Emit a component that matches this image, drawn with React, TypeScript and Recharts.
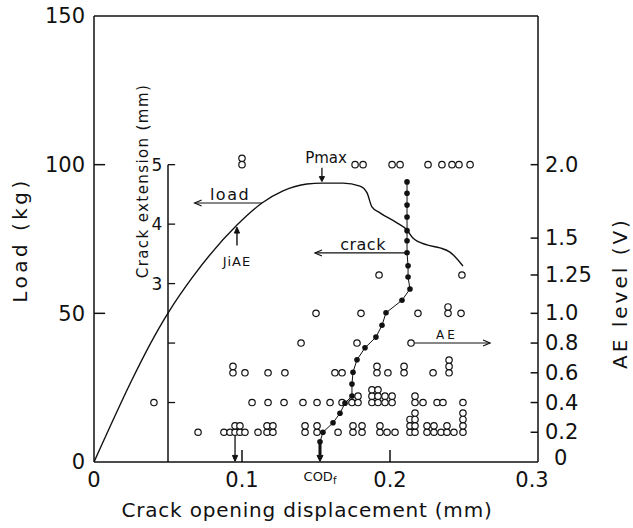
import React from 'react';
import { ComposedChart, Line, Scatter, XAxis, YAxis, ReferenceLine, ReferenceDot } from 'recharts';

const FONT = '"DejaVu Sans", sans-serif';
const INK = '#111';

// ---- axes ----
const xTicks = [0, 0.1, 0.2, 0.3];
const xTickLabels = ['0', '0.1', '0.2', '0.3'];
const loadTicks = [0, 50, 100, 150];
const loadInnerTicks = [50, 100];
const xInnerTicks = [0.1, 0.2];

// AE level axis (non-linear): level -> position on the load axis
const aeLevelTicks = [0, 0.2, 0.4, 0.6, 0.8, 1.0, 1.25, 1.5, 2.0];
const aeLevelLabels = ['0', '0.2', '0.4', '0.6', '0.8', '1.0', '1.25', '1.5', '2.0'];
const aeLevelOnLoadAxis = [0, 10, 20, 30, 40, 50, 62.9, 75.3, 100];

// Crack extension axis (inner), mm -> load axis
const crackTicksMm = [1, 2, 3, 4, 5];
const crackTickLabels = ['', '', '3', '4', '5'];
const crackKgPerMm = 20;
const crackAxisCod = 0.05;

// ---- series ----
const loadCod = [0, 0.05, 0.0662, 0.0966, 0.1135, 0.1277, 0.1439, 0.154, 0.1682, 0.1797, 0.1845, 0.1878, 0.1932, 0.2047, 0.2115, 0.2155, 0.225, 0.2338, 0.2405, 0.2493];
const loadKg = [0, 50.1, 61.9, 79.7, 87.1, 91.2, 93.5, 93.8, 93.8, 92.8, 90.5, 85.8, 83.8, 80.4, 78.0, 75.3, 73.0, 72.0, 70.6, 65.9];

const crackCod = [0.1527, 0.1547, 0.1615, 0.1662, 0.1696, 0.1743, 0.1743, 0.175, 0.1777, 0.1831, 0.1905, 0.1946, 0.1973, 0.2081, 0.2135, 0.2122, 0.2122, 0.2115, 0.2115, 0.2115, 0.2115, 0.2115, 0.2115, 0.2115];
const crackMm = [0.34, 0.5, 0.66, 0.82, 0.99, 1.11, 1.31, 1.51, 1.72, 1.92, 2.1, 2.3, 2.51, 2.72, 2.91, 3.11, 3.3, 3.52, 3.72, 3.89, 4.12, 4.32, 4.52, 4.71];

// AE events: [COD, number of events stacked]
const ae020 = [[0.0703, 1], [0.0878, 1], [0.0919, 1], [0.0953, 2], [0.0986, 2], [0.102, 1], [0.1108, 1], [0.1169, 2], [0.1209, 2], [0.1426, 2], [0.1507, 2], [0.1649, 1], [0.175, 2], [0.1811, 2], [0.1932, 2], [0.198, 1], [0.2034, 1], [0.2135, 3], [0.2169, 4], [0.225, 2], [0.2297, 2], [0.2345, 1], [0.2385, 2], [0.2432, 1], [0.2493, 4]];
const ae040 = [[0.0405, 1], [0.1068, 1], [0.1176, 1], [0.1284, 1], [0.1412, 1], [0.1507, 1], [0.1595, 1], [0.1676, 1], [0.1743, 1], [0.1784, 2], [0.1878, 3], [0.1919, 3], [0.1966, 2], [0.2014, 2], [0.2169, 2], [0.2223, 1], [0.2318, 1], [0.2358, 1], [0.2493, 1]];
const ae060 = [[0.0939, 2], [0.102, 1], [0.1176, 1], [0.129, 1], [0.1628, 1], [0.1676, 1], [0.1912, 2], [0.1986, 1], [0.2095, 2], [0.2291, 1], [0.2399, 3]];
const ae080 = [[0.1399, 1], [0.1777, 1], [0.2142, 1]];
const ae100 = [[0.15, 1], [0.1804, 1], [0.2189, 1], [0.2392, 2], [0.248, 1]];
const ae125 = [[0.1926, 1], [0.2486, 1]];
const ae200 = [[0.1, 2], [0.1764, 1], [0.1818, 1], [0.2014, 1], [0.2068, 1], [0.2257, 1], [0.2351, 1], [0.2419, 1], [0.2466, 1], [0.2541, 1]];

const aeToLoad = (lvl: number) => aeLevelOnLoadAxis[aeLevelTicks.indexOf(lvl)];

const loadData = loadCod.map((x, i) => ({ x, y: loadKg[i] }));
const crackData = crackCod.map((x, i) => ({ x, y: crackMm[i] * crackKgPerMm }));
const aeGroups: [number, number[][]][] = [[0.2, ae020], [0.4, ae040], [0.6, ae060], [0.8, ae080], [1.0, ae100], [1.25, ae125], [2.0, ae200]];
const aeData = aeGroups.flatMap(([lvl, arr]) => arr.map(([x, n]) => ({ x, y: aeToLoad(lvl), n })));

// ---- drawing helpers ----
const AeMark = (p: any) => {
  const { cx, cy, payload } = p;
  const n = payload?.n ?? 1;
  return (
    <g>
      {Array.from({ length: n }, (_, i) => (
        <circle key={i} cx={cx} cy={cy - i * 6.4} r={3.2} fill="#fff" stroke={INK} strokeWidth={1.2} />
      ))}
    </g>
  );
};

const arrow = (w: number, headLen: number, headW: number, filled = false) => (p: any) => {
  const { x1, y1, x2, y2 } = p;
  const dx = x2 - x1, dy = y2 - y1;
  const len = Math.hypot(dx, dy) || 1;
  const ux = dx / len, uy = dy / len;
  const bx = x2 - ux * headLen, by = y2 - uy * headLen;
  const px = -uy * headW, py = ux * headW;
  const pts = `${bx + px},${by + py} ${x2},${y2} ${bx - px},${by - py}`;
  return (
    <g>
      <line x1={x1} y1={y1} x2={filled ? bx : x2} y2={filled ? by : y2} stroke={INK} strokeWidth={w} />
      {filled ? <polygon points={pts} fill={INK} stroke={INK} strokeWidth={1} /> : <polyline points={pts} fill="none" stroke={INK} strokeWidth={1.2} />}
    </g>
  );
};

const plainLine = (w: number) => (p: any) => <line x1={p.x1} y1={p.y1} x2={p.x2} y2={p.y2} stroke={INK} strokeWidth={w} />;

const txt = (s: React.ReactNode, size: number, opts: { anchor?: string; ls?: number; rot?: number } = {}) => (p: any) => (
  <text
    x={p.cx}
    y={p.cy}
    fontSize={size}
    fontFamily={FONT}
    fill={INK}
    textAnchor={opts.anchor || 'middle'}
    dominantBaseline="central"
    letterSpacing={opts.ls || 0}
    transform={opts.rot ? `rotate(${opts.rot}, ${p.cx}, ${p.cy})` : undefined}
  >
    {s}
  </text>
);

const leftTitle = (props: any) => {
  const vb = props.viewBox || { x: 0, y: 16, width: 94, height: 446 };
  const cx = vb.x + 20, cy = vb.y + vb.height / 2 + 1;
  return (
    <text x={cx} y={cy} transform={`rotate(-90, ${cx}, ${cy})`} textAnchor="middle" dominantBaseline="central" fontSize={20} fontFamily={FONT} fill={INK} letterSpacing={3.5}>
      Load (kg)
    </text>
  );
};
const rightTitle = (props: any) => {
  const vb = props.viewBox || { x: 538, y: 16, width: 95, height: 446 };
  const cx = vb.x + 82, cy = vb.y + vb.height / 2 + 54;
  return (
    <text x={cx} y={cy} transform={`rotate(-90, ${cx}, ${cy})`} textAnchor="middle" dominantBaseline="central" fontSize={20} fontFamily={FONT} fill={INK} letterSpacing={3}>
      AE level (V)
    </text>
  );
};
const bottomTitle = (props: any) => {
  const vb = props.viewBox || { x: 94, y: 462, width: 444, height: 66 };
  const cx = vb.x + vb.width / 2 - 9, cy = vb.y + 48;
  return (
    <text x={cx} y={cy} textAnchor="middle" dominantBaseline="central" fontSize={20} fontFamily={FONT} fill={INK} letterSpacing={0.8}>
      Crack opening displacement (mm)
    </text>
  );
};

const tickStyle = { fontSize: 21, fill: INK, fontFamily: FONT };

const XTick = (p: any) => {
  const v = p.payload?.value;
  const i = xTicks.indexOf(v);
  const last = i === xTicks.length - 1;
  return (
    <text x={p.x + (last ? -6 : 0)} y={p.y} dy="0.74em" textAnchor="middle" fontSize={21} fontFamily={FONT} fill={INK}>
      {xTickLabels[i] ?? String(v)}
    </text>
  );
};

const AeTick = (p: any) => {
  const v = p.payload?.value;
  const i = aeLevelOnLoadAxis.indexOf(v);
  const first = i === 0;
  return (
    <text x={p.x + (first ? 9 : 0)} y={p.y + (first ? -4 : 0)} textAnchor="start" dominantBaseline="central" fontSize={21} fontFamily={FONT} fill={INK}>
      {aeLevelLabels[i] ?? ''}
    </text>
  );
};

export default function App() {
  return (
    <div style={{ position: 'absolute', left: 0, top: 0, width: 633, height: 528, background: '#fff' }}>
      <ComposedChart width={633} height={528} margin={{ top: 16, right: 0, bottom: 0, left: 0 }}>
        <XAxis
          type="number"
          dataKey="x"
          domain={[0, 0.3]}
          ticks={xTicks}
          interval={0}
          height={66}
          tickLine={false}
          tickSize={0}
          tickMargin={9}
          axisLine={{ stroke: INK, strokeWidth: 1.5 }}
          tick={<XTick />}
          allowDataOverflow
          label={bottomTitle}
        />
        <YAxis
          yAxisId="load"
          type="number"
          domain={[0, 150]}
          ticks={loadTicks}
          interval={0}
          width={94}
          tickLine={false}
          tickSize={0}
          tickMargin={9}
          axisLine={{ stroke: INK, strokeWidth: 1.5 }}
          tick={tickStyle}
          allowDataOverflow
          label={leftTitle}
        />
        <YAxis
          yAxisId="ae"
          orientation="right"
          type="number"
          domain={[0, 150]}
          ticks={aeLevelOnLoadAxis}
          interval={0}
          width={95}
          tickLine={false}
          tickSize={0}
          tickMargin={7}
          axisLine={{ stroke: INK, strokeWidth: 1.5 }}
          tick={<AeTick />}
          allowDataOverflow
          label={rightTitle}
        />

        {/* frame top */}
        <ReferenceLine yAxisId="load" y={150} stroke={INK} strokeWidth={1.5} />
        {/* inward ticks */}
        {loadInnerTicks.map((v) => (
          <ReferenceLine key={'lt' + v} yAxisId="load" segment={[{ x: 0, y: v }, { x: 0.0075, y: v }]} shape={plainLine(1.5)} />
        ))}
        {aeLevelOnLoadAxis.slice(1).map((v) => (
          <ReferenceLine key={'rt' + v} yAxisId="load" segment={[{ x: 0.295, y: v }, { x: 0.3, y: v }]} shape={plainLine(1.5)} />
        ))}
        {xInnerTicks.map((v) => (
          <ReferenceLine key={'xt' + v} yAxisId="load" segment={[{ x: v, y: 0 }, { x: v, y: 4 }]} shape={plainLine(1.5)} />
        ))}

        {/* crack extension inner axis */}
        <ReferenceLine yAxisId="load" segment={[{ x: crackAxisCod, y: 0 }, { x: crackAxisCod, y: 5 * crackKgPerMm }]} shape={plainLine(1.5)} />
        {crackTicksMm.map((mm) => (
          <ReferenceLine key={'ct' + mm} yAxisId="load" segment={[{ x: crackAxisCod, y: mm * crackKgPerMm }, { x: crackAxisCod + 0.0048, y: mm * crackKgPerMm }]} shape={plainLine(1.3)} />
        ))}
        {crackTicksMm.map((mm, i) =>
          crackTickLabels[i] ? (
            <ReferenceDot key={'cl' + mm} yAxisId="load" x={crackAxisCod - 0.0075} y={mm * crackKgPerMm} r={0} shape={txt(crackTickLabels[i], 17)} />
          ) : null
        )}
        <ReferenceDot yAxisId="load" x={0.0331} y={94.5} r={0} shape={txt('Crack extension (mm)', 15, { rot: -90, ls: 1.4 })} />

        {/* series */}
        <Line yAxisId="load" data={loadData} dataKey="y" type="monotone" stroke={INK} strokeWidth={1.4} dot={false} isAnimationActive={false} />
        <Scatter yAxisId="ae" data={aeData} dataKey="y" shape={AeMark} isAnimationActive={false} />
        <Line
          yAxisId="load"
          data={crackData}
          dataKey="y"
          type="linear"
          stroke={INK}
          strokeWidth={1}
          dot={(p: any) => <circle key={'cd' + p.index} cx={p.cx} cy={p.cy} r={2.8} fill={INK} />}
          isAnimationActive={false}
        />

        {/* annotations */}
        <ReferenceLine yAxisId="load" segment={[{ x: 0.1135, y: 87.1 }, { x: 0.068, y: 87.1 }]} shape={arrow(1.2, 7, 3)} />
        <ReferenceDot yAxisId="load" x={0.0919} y={89.9} r={0} shape={txt('load', 16, { ls: 1.5 })} />

        <ReferenceLine yAxisId="load" segment={[{ x: 0.0966, y: 72.8 }, { x: 0.0966, y: 79.0 }]} shape={arrow(1.4, 6, 2.6, true)} />
        <ReferenceDot yAxisId="load" x={0.0966} y={67.6} r={0} shape={txt('JiAE', 13, { ls: 1 })} />

        <ReferenceLine yAxisId="load" segment={[{ x: 0.154, y: 99.0 }, { x: 0.154, y: 94.3 }]} shape={arrow(1.3, 5, 2.6, true)} />
        <ReferenceDot yAxisId="load" x={0.1568} y={102.3} r={0} shape={txt('Pmax', 15)} />

        <ReferenceLine yAxisId="load" segment={[{ x: 0.2115, y: 70.3 }, { x: 0.1493, y: 70.3 }]} shape={arrow(1.2, 7, 3)} />
        <ReferenceDot yAxisId="load" x={0.1818} y={73.0} r={0} shape={txt('crack', 16, { ls: 0.5 })} />

        <ReferenceLine yAxisId="load" segment={[{ x: 0.2165, y: 40 }, { x: 0.2676, y: 40 }]} shape={arrow(1.1, 7, 3)} />
        <ReferenceDot yAxisId="load" x={0.2385} y={42.6} r={0} shape={txt('AE', 12, { ls: 3 })} />

        <ReferenceLine yAxisId="load" segment={[{ x: 0.0953, y: 10.5 }, { x: 0.0953, y: 0.2 }]} shape={arrow(1.3, 6, 2.6, true)} />

        <ReferenceLine yAxisId="load" segment={[{ x: crackCod[0], y: crackMm[0] * crackKgPerMm }, { x: crackCod[0], y: 0.2 }]} shape={arrow(3, 6, 3, true)} />
        <ReferenceDot
          yAxisId="load"
          x={0.1527}
          y={-5}
          r={0}
          ifOverflow="visible"
          shape={txt(<>COD<tspan fontSize={10} dy={3}>f</tspan></>, 13)}
        />
      </ComposedChart>
    </div>
  );
}
